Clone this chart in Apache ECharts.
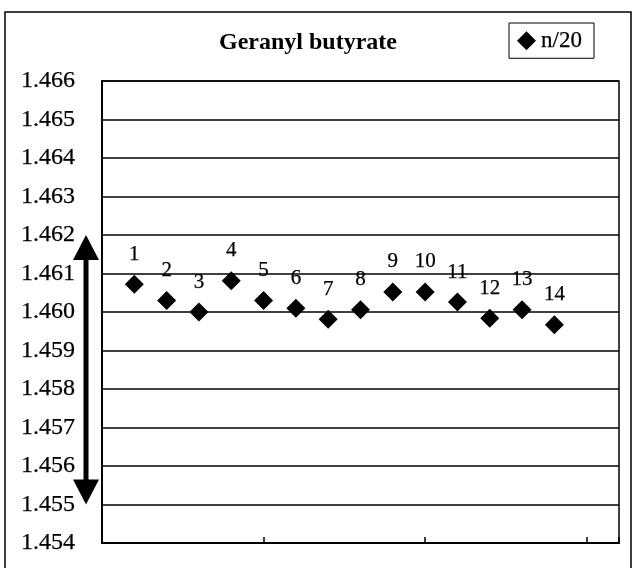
<!DOCTYPE html>
<html><head><meta charset="utf-8">
<script src="https://cdn.jsdelivr.net/npm/echarts@6/dist/echarts.min.js"></script>
<style>html,body{margin:0;padding:0;background:#fff}#c{width:633px;height:568px}</style>
</head><body><div id="c"></div>
<script>
// ---- data ----
const sampleNo = [1, 2, 3, 4, 5, 6, 7, 8, 9, 10, 11, 12, 13, 14];
const nD20 = [1.46072, 1.46030, 1.46000, 1.46081, 1.46030, 1.46010, 1.45981,
              1.46006, 1.46052, 1.46052, 1.46026, 1.45984, 1.46006, 1.45967];
const yMin = 1.454, yMax = 1.466, yStep = 0.001;
const xMin = 0, xMax = 16, xStep = 5;
const arrowRange = [1.462, 1.455];
const seriesName = 'n/20';
const titleText = 'Geranyl butyrate';

const serif = '"Liberation Serif", "DejaVu Serif", serif';
const ink = {color: '#000', textBorderColor: '#000', textBorderWidth: 0.25};
const chart = echarts.init(document.getElementById('c'), null, {renderer: 'canvas'});
chart.setOption({
  animation: false,
  backgroundColor: '#fff',
  title: {
    text: titleText, left: 303, textAlign: 'center', top: 26,
    textStyle: {fontFamily: serif, fontWeight: 'bold', fontSize: 24, color: '#000'}
  },
  legend: {
    data: [seriesName], left: 509, top: 23, padding: [6, 12, 6, 8],
    borderColor: '#000', borderWidth: 1, icon: 'diamond',
    itemWidth: 19, itemHeight: 19, itemGap: 4,
    textStyle: Object.assign({fontFamily: serif, fontSize: 23}, ink)
  },
  grid: {left: 102, right: 14, top: 81, bottom: 25, show: true,
         borderColor: '#000', borderWidth: 1.5, containLabel: false},
  xAxis: {
    type: 'value', min: xMin, max: xMax, interval: xStep,
    axisLine: {show: true, lineStyle: {color: '#000', width: 2}},
    axisTick: {show: true, inside: true, length: 6, lineStyle: {color: '#000', width: 1.5}},
    axisLabel: {show: false}, splitLine: {show: false}
  },
  yAxis: {
    type: 'value', min: yMin, max: yMax, interval: yStep,
    axisLine: {show: true, lineStyle: {color: '#000', width: 2}},
    axisTick: {show: false},
    axisLabel: Object.assign({formatter: v => v.toFixed(3), margin: 27,
                fontFamily: serif, fontSize: 24}, ink),
    splitLine: {show: true, lineStyle: {color: '#000', width: 1.5}}
  },
  series: [{
    name: seriesName, type: 'scatter', symbol: 'diamond', symbolSize: 19,
    itemStyle: {color: '#000', opacity: 1},
    data: sampleNo.map((x, i) => [x, nD20[i]]),
    label: Object.assign({show: true, position: 'top', distance: 10,
            formatter: p => String(p.value[0]),
            fontFamily: serif, fontSize: 21}, ink)
  }]
});

// annotation: outer frame + double-headed arrow spanning arrowRange
const pTop = chart.convertToPixel({gridIndex: 0}, [xMin, arrowRange[0]]);
const pBot = chart.convertToPixel({gridIndex: 0}, [xMin, arrowRange[1]]);
const ax = pTop[0] - 16, yT = pTop[1], yB = pBot[1];
const headH = 25, headW = 13, shaftW = 5;
chart.setOption({
  graphic: [
    {type: 'rect', shape: {x: 5, y: 12, width: 626, height: 570},
     style: {fill: 'none', stroke: '#000', lineWidth: 1.5}, silent: true},
    {type: 'rect', shape: {x: ax - shaftW / 2, y: yT + headH - 1, width: shaftW, height: yB - yT - 2 * headH + 2},
     style: {fill: '#000'}, silent: true},
    {type: 'polygon', shape: {points: [[ax, yT], [ax - headW, yT + headH], [ax + headW, yT + headH]]},
     style: {fill: '#000'}, silent: true},
    {type: 'polygon', shape: {points: [[ax, yB], [ax - headW, yB - headH], [ax + headW, yB - headH]]},
     style: {fill: '#000'}, silent: true}
  ]
});
</script>
</body></html>
